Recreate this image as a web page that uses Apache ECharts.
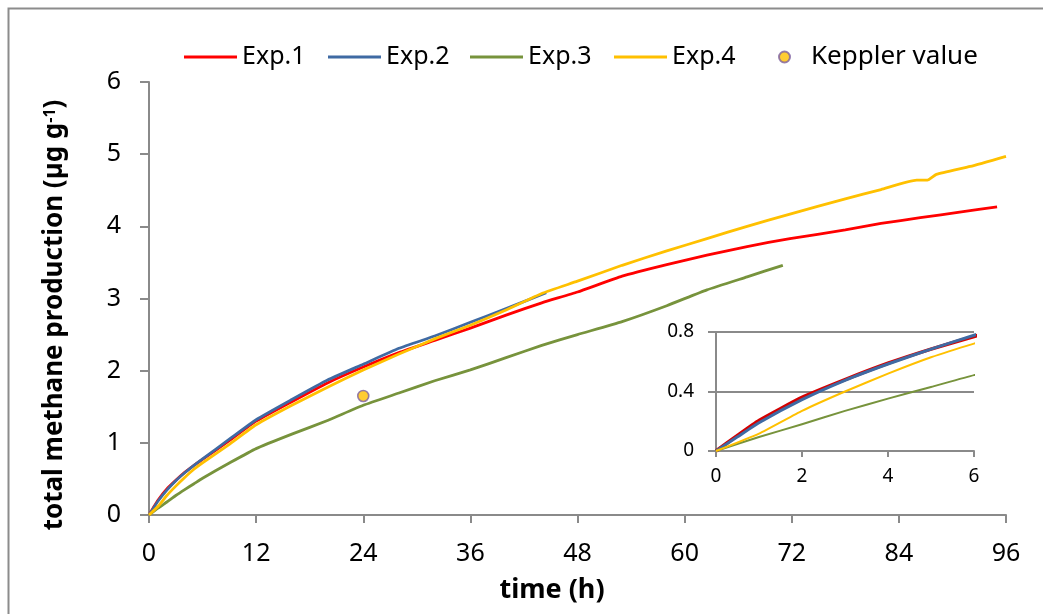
<!DOCTYPE html>
<html>
<head>
<meta charset="utf-8">
<script src="https://cdn.jsdelivr.net/npm/echarts@6/dist/echarts.min.js"></script>
<style>
  html, body { margin: 0; padding: 0; background: #ffffff; }
  #chart { width: 1043px; height: 614px; }
</style>
</head>
<body>
<div id="chart"></div>
<script>
// Incubation time (h) and cumulative methane (µg g-1) for each experiment
const timeExp1 = [0, 0.5, 1, 2, 3, 4, 5, 6, 9, 12, 16, 20, 24, 28, 32, 36, 40, 44, 48, 53, 58, 62.5, 67, 71.8, 78, 82, 86.4, 91, 95];
const valExp1  = [0, 0.105, 0.205, 0.36, 0.48, 0.59, 0.685, 0.77, 1.03, 1.30, 1.57, 1.83, 2.05, 2.25, 2.42, 2.59, 2.77, 2.94, 3.09, 3.31, 3.47, 3.60, 3.72, 3.83, 3.95, 4.04, 4.12, 4.20, 4.27];

const timeExp2 = [0, 0.5, 1, 2, 3, 4, 5, 6, 9, 12, 16, 20, 24, 28, 32, 36, 40, 44.5];
const valExp2  = [0, 0.095, 0.19, 0.345, 0.475, 0.585, 0.685, 0.778, 1.05, 1.32, 1.60, 1.87, 2.09, 2.31, 2.48, 2.67, 2.86, 3.08];

const timeExp3 = [0, 1, 2, 3, 4, 5, 6, 9, 12, 16, 20, 24, 28, 32, 36, 40, 44, 48, 53, 58, 62.5, 67, 71];
const valExp3  = [0, 0.094, 0.18, 0.27, 0.352, 0.43, 0.51, 0.72, 0.92, 1.12, 1.31, 1.52, 1.69, 1.86, 2.01, 2.18, 2.35, 2.50, 2.68, 2.90, 3.12, 3.30, 3.46];

const timeExp4 = [0, 1, 2, 3, 4, 5, 6, 9, 12, 16, 20, 24, 28, 32, 36, 40, 44, 48, 53, 58, 62.5, 67, 71.8, 78, 82, 86, 87.2, 88.2, 92, 96];
const valExp4  = [0, 0.117, 0.27, 0.40, 0.52, 0.63, 0.722, 0.98, 1.25, 1.52, 1.77, 2.01, 2.23, 2.44, 2.63, 2.84, 3.07, 3.24, 3.46, 3.66, 3.83, 4.00, 4.17, 4.38, 4.51, 4.64, 4.64, 4.72, 4.83, 4.97];

// Reference value from Keppler
const kepplerTime = [24];
const kepplerVal  = [1.65];

const seriesNames = ['Exp.1', 'Exp.2', 'Exp.3', 'Exp.4'];
const seriesColors = ['#FF0000', '#3F6AA3', '#77933C', '#FFC000'];
const seriesTimes = [timeExp1, timeExp2, timeExp3, timeExp4];
const seriesVals = [valExp1, valExp2, valExp3, valExp4];

const FONT = '"Noto Sans", "DejaVu Sans", sans-serif';
const AXIS_GRAY = '#8A8A8A';

function pairs(ts, vs) { return ts.map((t, i) => [t, vs[i]]); }

const mainSeries = seriesNames.map((name, i) => ({
  name: name,
  type: 'line',
  xAxisIndex: 0, yAxisIndex: 0,
  data: pairs(seriesTimes[i], seriesVals[i]),
  showSymbol: false, symbol: 'none',
  smooth: 0.15,
  lineStyle: { color: seriesColors[i], width: 2.8, join: 'round' },
  itemStyle: { color: seriesColors[i] },
  z: 2
}));

const insetWidths = [3.6, 3.0, 2.0, 2.0];
const insetSeries = seriesNames.map((name, i) => ({
  name: name + ' (0–6 h)',
  type: 'line',
  xAxisIndex: 1, yAxisIndex: 1,
  data: pairs(seriesTimes[i], seriesVals[i]),
  showSymbol: false, symbol: 'none',
  smooth: 0.15,
  clip: true,
  lineStyle: { color: i === 0 ? '#D40000' : seriesColors[i], width: insetWidths[i], join: 'round' },
  z: 3
}));

const kepplerSeries = {
  name: 'Keppler value',
  type: 'scatter',
  xAxisIndex: 0, yAxisIndex: 0,
  data: pairs(kepplerTime, kepplerVal),
  symbol: 'circle',
  symbolSize: 11,
  itemStyle: { color: '#FFC000', borderColor: '#7D60A0', borderWidth: 1.6 },
  z: 5
};

const chart = echarts.init(document.getElementById('chart'), null, { renderer: 'canvas' });

const legendText = { fontFamily: FONT, fontSize: 25, color: '#000000', lineHeight: 30 };
const lineLegendLefts = [179, 323, 465, 609];
const legends = seriesNames.map((name, i) => ({
  data: [{ name: name, icon: 'rect' }],
  left: lineLegendLefts[i], top: 37,
  itemWidth: 53, itemHeight: 3,
  itemGap: 0,
  textStyle: legendText,
  selectedMode: false
}));
legends.push({
  data: [{ name: 'Keppler value', icon: 'circle' }],
  left: 773, top: 37,
  itemWidth: 11, itemHeight: 11,
  textStyle: Object.assign({}, legendText, { fontSize: 26, padding: [0, 0, 0, 16] }),
  selectedMode: false
});

chart.setOption({
  animation: false,
  backgroundColor: '#ffffff',
  legend: legends,
  graphic: [
    {
      type: 'rect',
      shape: { x: 8.5, y: 8.5, width: 1200, height: 800 },
      style: { fill: 'none', stroke: '#8C8C8C', lineWidth: 2 },
      silent: true, z: -10
    },
    {
      type: 'text',
      x: 55, y: 315,
      rotation: Math.PI / 2,
      style: {
        text: '{t|total methane production (µg g}{s|-1}{t|)}',
        align: 'center', verticalAlign: 'middle',
        rich: {
          t: { fontFamily: FONT, fontSize: 26, fontWeight: 'bold', fill: '#000000' },
          s: { fontFamily: FONT, fontSize: 16, fontWeight: 'bold', fill: '#000000', verticalAlign: 'top', padding: [0, 0, 10, 0] }
        }
      }
    },
    {
      type: 'text',
      x: 552, y: 590,
      style: {
        text: 'time (h)',
        align: 'center', verticalAlign: 'middle',
        fontFamily: FONT, fontSize: 27, fontWeight: 'bold', fill: '#000000'
      }
    }
  ],
  grid: [
    { left: 149, top: 82, width: 857, height: 433 },
    { left: 716, top: 332, width: 258, height: 119 }
  ],
  xAxis: [
    {
      type: 'value', gridIndex: 0,
      min: 0, max: 96, interval: 12,
      axisLine: { show: true, lineStyle: { color: AXIS_GRAY, width: 2 } },
      axisTick: { show: true, length: 8, lineStyle: { color: AXIS_GRAY, width: 2 } },
      axisLabel: { fontFamily: FONT, fontSize: 25, color: '#000000', margin: 26 },
      splitLine: { show: false }
    },
    {
      type: 'value', gridIndex: 1,
      min: 0, max: 6, interval: 2,
      axisLine: { show: true, lineStyle: { color: AXIS_GRAY, width: 2 } },
      axisTick: { show: true, length: 6, lineStyle: { color: AXIS_GRAY, width: 2 } },
      axisLabel: { fontFamily: FONT, fontSize: 19, color: '#000000', margin: 16 },
      splitLine: { show: false }
    }
  ],
  yAxis: [
    {
      type: 'value', gridIndex: 0,
      min: 0, max: 6, interval: 1,
      axisLine: { show: true, lineStyle: { color: AXIS_GRAY, width: 2 } },
      axisTick: { show: true, length: 9, lineStyle: { color: AXIS_GRAY, width: 2 } },
      axisLabel: { fontFamily: FONT, fontSize: 25, color: '#000000', margin: 28 },
      splitLine: { show: false }
    },
    {
      type: 'value', gridIndex: 1,
      min: 0, max: 0.8, interval: 0.4,
      axisLine: { show: true, lineStyle: { color: AXIS_GRAY, width: 2 } },
      axisTick: { show: true, length: 8, lineStyle: { color: AXIS_GRAY, width: 2 } },
      axisLabel: { fontFamily: FONT, fontSize: 19, color: '#000000', margin: 22 },
      splitLine: { show: true, lineStyle: { color: AXIS_GRAY, width: 2 } }
    }
  ],
  series: mainSeries.concat([kepplerSeries]).concat(insetSeries)
});
</script>
</body>
</html>
